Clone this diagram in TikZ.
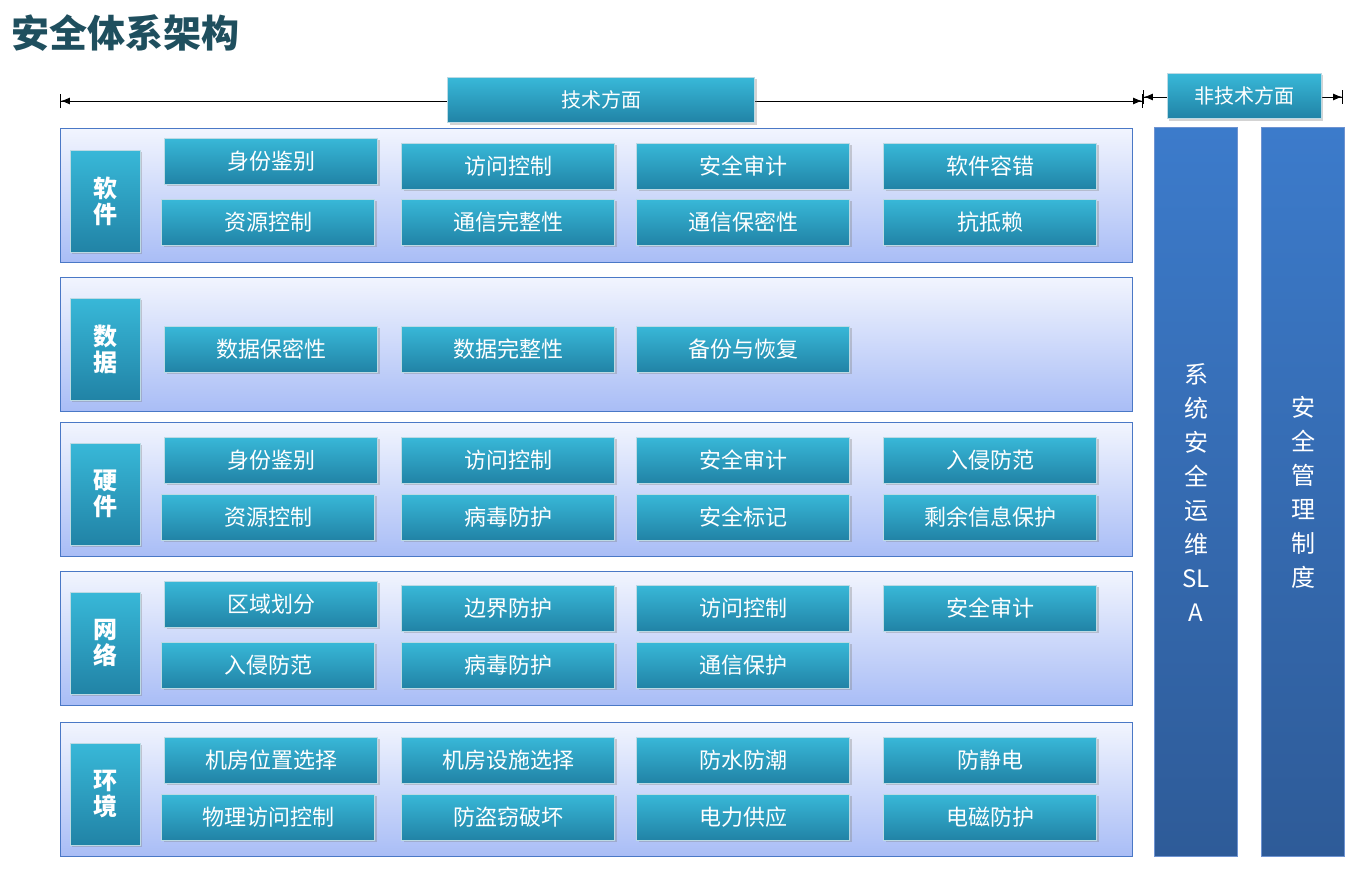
\documentclass[tikz,border=0pt]{standalone}
\usepackage{fontspec}
\setmainfont{Noto Sans CJK SC}
\usepackage{tikz}
\usetikzlibrary{shadows, calc, arrows.meta}
\definecolor{titlecol}{HTML}{1F4F5E}
\definecolor{itemtop}{HTML}{38B8D8}
\definecolor{itembot}{HTML}{2183A6}
\definecolor{paneltop}{HTML}{F2F5FE}
\definecolor{panelbot}{HTML}{A9BDF6}
\definecolor{panelline}{HTML}{4A78C6}
\definecolor{coltop}{HTML}{3C7BCB}
\definecolor{colbot}{HTML}{2E5B98}

\begin{document}
\begin{tikzpicture}[
    x=1pt, y=-1pt,
    item/.style={
        rectangle,
        draw=white!70!itembot,
        top color=itemtop,
        bottom color=itembot,
        text=white,
        minimum width=213pt,
        minimum height=46pt,
        inner sep=0pt,
        font=\fontsize{22}{24}\selectfont,
        drop shadow={opacity=0.35, shadow xshift=2pt, shadow yshift=-2pt}
    },
    side/.style={
        item,
        minimum width=70pt,
        minimum height=102pt,
        align=center,
        font=\fontsize{24}{26}\selectfont\bfseries
    },
    panel/.style={
        rectangle,
        draw=panelline,
        thick,
        top color=paneltop,
        bottom color=panelbot,
        minimum width=1072pt,
        minimum height=134pt,
        inner sep=0pt
    },
    column/.style={
        rectangle,
        draw=panelline!80,
        top color=coltop,
        bottom color=colbot,
        text=white,
        minimum width=83pt,
        minimum height=729pt,
        align=center,
        inner sep=0pt,
        font=\fontsize{24}{34}\selectfont
    },
    head/.style={
        item,
        minimum height=45pt,
        font=\fontsize{20}{22}\selectfont
    },
    line/.style={
        draw,
        {Bar[width=14pt]Latex[length=9pt]}-{Latex[length=9pt]Bar[width=14pt]},
        thick
    }
]
\useasboundingbox (0,0) rectangle (1363,875);

% Title
\node [anchor=west, text=titlecol, font=\fontsize{38}{40}\selectfont\bfseries] (title) at (8,33) {安全体系架构};

% Headings
\coordinate (techL) at (60,101);
\coordinate (techR) at (1143,101);
\coordinate (nonL) at (1143,97);
\coordinate (nonR) at (1343,97);
\path [line] (techL) -- (techR);
\path [line] (nonL) -- (nonR);
\node [head, minimum width=307pt] (tech) at (601,100) {技术方面};
\node [head, minimum width=154pt] (nontech) at (1244,96) {非技术方面};

% Panels
\node [panel] (software) at (596,195) {};
\node [panel] (data) at (596,344) {};
\node [panel] (hardware) at (596,489) {};
\node [panel] (network) at (596,638) {};
\node [panel] (environment) at (596,789) {};

% Side labels
\node [side] (swlabel) at (105,201) {软\\件};
\node [side] (dalabel) at (105,349) {数\\据};
\node [side] (hwlabel) at (105,494) {硬\\件};
\node [side] (nwlabel) at (105,643) {网\\络};
\node [side] (envlabel) at (105,794) {环\\境};

% Software
\node [item] (sw1) at (271,161) {身份鉴别};
\node [item] (sw2) at (508,166) {访问控制};
\node [item] (sw3) at (743,166) {安全审计};
\node [item] (sw4) at (990,166) {软件容错};
\node [item] (sw5) at (268,222) {资源控制};
\node [item] (sw6) at (508,222) {通信完整性};
\node [item] (sw7) at (743,222) {通信保密性};
\node [item] (sw8) at (990,222) {抗抵赖};

% Data
\node [item] (da1) at (271,349) {数据保密性};
\node [item] (da2) at (508,349) {数据完整性};
\node [item] (da3) at (743,349) {备份与恢复};

% Hardware
\node [item] (hw1) at (271,460) {身份鉴别};
\node [item] (hw2) at (508,460) {访问控制};
\node [item] (hw3) at (743,460) {安全审计};
\node [item] (hw4) at (990,460) {入侵防范};
\node [item] (hw5) at (268,517) {资源控制};
\node [item] (hw6) at (508,517) {病毒防护};
\node [item] (hw7) at (743,517) {安全标记};
\node [item] (hw8) at (990,517) {剩余信息保护};

% Network
\node [item] (nw1) at (271,604) {区域划分};
\node [item] (nw2) at (508,608) {边界防护};
\node [item] (nw3) at (743,608) {访问控制};
\node [item] (nw4) at (990,608) {安全审计};
\node [item] (nw5) at (268,665) {入侵防范};
\node [item] (nw6) at (508,665) {病毒防护};
\node [item] (nw7) at (743,665) {通信保护};

% Environment
\node [item] (env1) at (271,760) {机房位置选择};
\node [item] (env2) at (508,760) {机房设施选择};
\node [item] (env3) at (743,760) {防水防潮};
\node [item] (env4) at (990,760) {防静电};
\node [item] (env5) at (268,817) {物理访问控制};
\node [item] (env6) at (508,817) {防盗窃破坏};
\node [item] (env7) at (743,817) {电力供应};
\node [item] (env8) at (990,817) {电磁防护};

% Non-technical columns
\node [column] (ops) at (1196,492) {系\\统\\安\\全\\运\\维\\SL\\A};
\node [column] (mgmt) at (1303,492) {安\\全\\管\\理\\制\\度};

\end{tikzpicture}
\end{document}
